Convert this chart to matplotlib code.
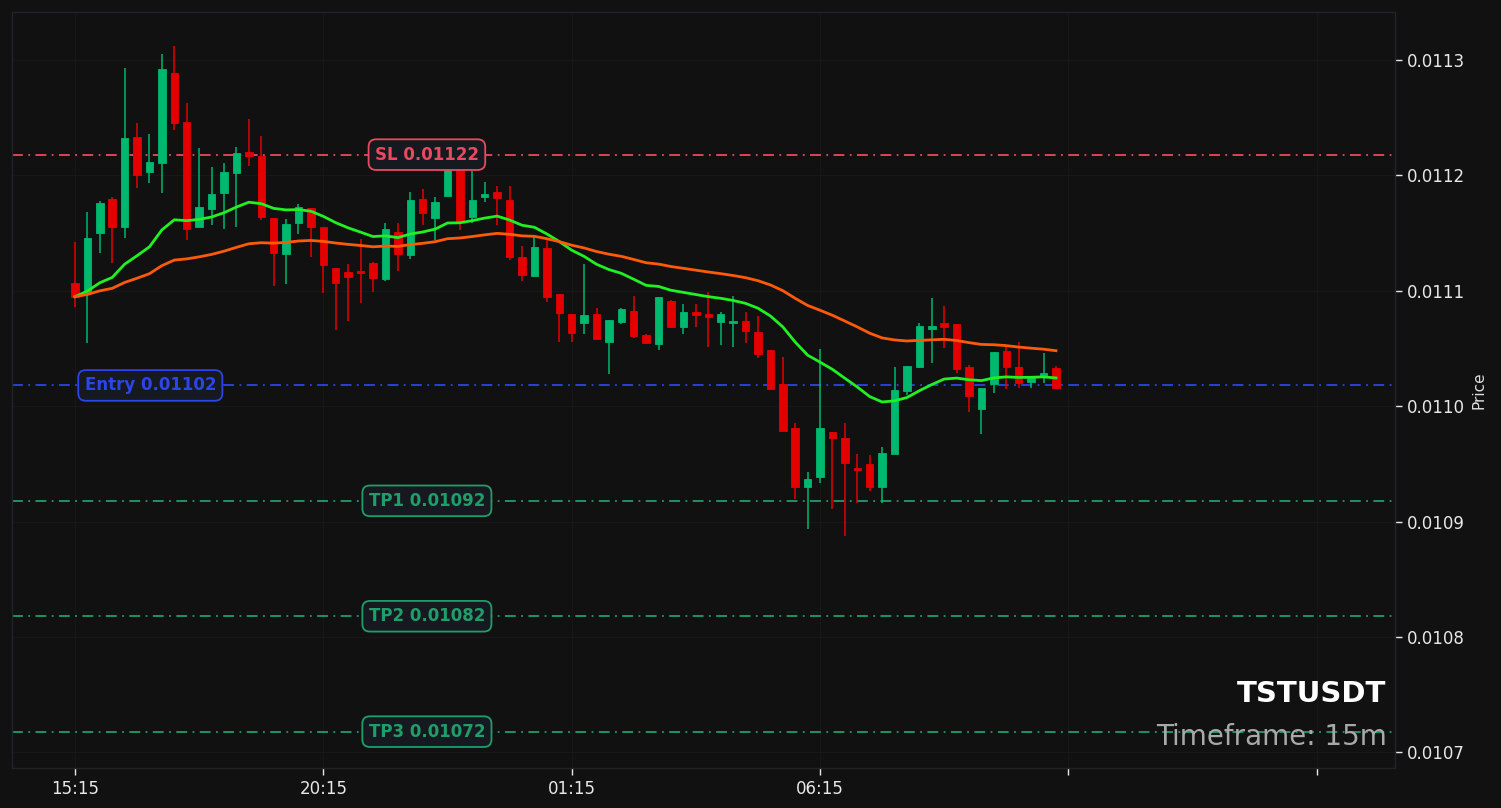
import numpy as np
import pandas as pd
import matplotlib
matplotlib.use("Agg")
import matplotlib.pyplot as plt

# ---- data (prices in units of 1e-5) ----
opens = np.array([1110.65, 1109.92, 1114.98, 1117.93, 1115.55, 1123.35, 1120.32, 1121.10, 1128.85, 1124.60,
                  1115.55, 1117.11, 1118.50, 1120.18, 1122.00, 1121.68, 1116.28, 1113.16, 1115.85, 1117.15,
                  1115.50, 1111.95, 1111.60, 1111.72, 1112.38, 1111.02, 1115.12, 1113.10, 1117.93, 1116.33,
                  1118.24, 1120.99, 1116.37, 1118.15, 1118.56, 1117.84, 1112.90, 1111.26, 1113.68, 1109.70,
                  1107.96, 1107.24, 1107.96, 1105.59, 1107.32, 1108.25, 1106.17, 1105.39, 1109.12, 1106.89,
                  1108.14, 1107.99, 1107.32, 1107.24, 1107.38, 1106.40, 1104.87, 1101.90, 1098.08, 1092.97,
                  1093.89, 1097.74, 1097.22, 1094.62, 1094.99, 1093.02, 1095.86, 1101.32, 1103.37, 1106.69,
                  1107.18, 1107.10, 1103.37, 1099.76, 1101.92, 1104.78, 1103.37, 1102.12, 1102.56, 1103.28]) * 1e-5
highs = np.array([1114.20, 1116.85, 1117.81, 1118.15, 1129.28, 1124.51, 1123.56, 1130.49, 1131.21, 1126.25,
                  1122.35, 1120.75, 1121.10, 1122.43, 1124.86, 1123.44, 1116.28, 1116.20, 1117.52, 1117.15,
                  1115.50, 1111.95, 1112.30, 1114.46, 1112.52, 1115.90, 1115.85, 1118.54, 1118.80, 1118.15,
                  1121.51, 1121.77, 1120.41, 1119.40, 1119.11, 1119.11, 1113.91, 1114.64, 1114.40, 1109.70,
                  1107.96, 1112.30, 1108.48, 1107.47, 1108.48, 1109.55, 1106.26, 1109.49, 1109.20, 1108.83,
                  1108.83, 1109.92, 1108.19, 1109.55, 1108.19, 1107.79, 1104.87, 1104.24, 1098.52, 1094.32,
                  1104.93, 1097.74, 1098.52, 1095.86, 1095.77, 1096.49, 1103.37, 1103.48, 1107.18, 1109.35,
                  1108.68, 1107.10, 1103.57, 1101.55, 1104.67, 1105.30, 1105.59, 1102.64, 1104.58, 1103.48]) * 1e-5
lows = np.array([1108.62, 1105.45, 1113.25, 1112.38, 1114.55, 1118.88, 1119.32, 1118.45, 1123.93, 1114.40,
                 1115.55, 1115.70, 1115.33, 1115.50, 1120.81, 1116.14, 1110.42, 1110.59, 1114.92, 1112.95,
                 1109.84, 1106.60, 1107.41, 1108.97, 1109.92, 1110.85, 1111.72, 1112.73, 1115.70, 1114.40,
                 1118.10, 1115.27, 1115.85, 1117.67, 1115.70, 1112.67, 1110.85, 1111.20, 1109.00, 1105.59,
                 1105.59, 1106.23, 1105.80, 1102.79, 1107.12, 1105.88, 1105.36, 1104.87, 1106.82, 1106.23,
                 1106.89, 1105.16, 1105.30, 1105.16, 1105.50, 1104.15, 1101.46, 1097.88, 1091.93, 1089.33,
                 1093.32, 1091.07, 1088.75, 1091.59, 1092.68, 1091.59, 1095.86, 1100.97, 1103.28, 1103.72,
                 1105.02, 1102.85, 1099.47, 1097.56, 1101.12, 1101.46, 1101.55, 1101.55, 1101.98, 1101.46]) * 1e-5
closes = np.array([1109.49, 1114.55, 1117.58, 1115.55, 1123.21, 1120.03, 1121.14, 1129.19, 1124.51, 1115.33,
                   1117.24, 1118.36, 1120.27, 1121.92, 1121.68, 1116.37, 1113.25, 1115.76, 1117.29, 1115.55,
                   1112.24, 1110.70, 1111.17, 1111.57, 1111.08, 1115.33, 1113.16, 1117.87, 1116.77, 1117.72,
                   1120.90, 1116.07, 1117.87, 1118.39, 1118.07, 1112.95, 1111.40, 1113.80, 1109.44, 1108.05,
                   1106.37, 1107.90, 1105.80, 1107.47, 1108.42, 1106.11, 1105.45, 1109.49, 1106.89, 1108.14,
                   1107.90, 1107.76, 1107.99, 1107.38, 1106.54, 1104.50, 1101.46, 1097.88, 1093.02, 1093.66,
                   1098.08, 1097.22, 1095.10, 1094.47, 1092.97, 1095.92, 1101.40, 1103.48, 1106.95, 1106.95,
                   1106.89, 1103.22, 1100.91, 1101.55, 1104.67, 1103.37, 1102.04, 1102.64, 1102.85, 1101.60]) * 1e-5

symbol = "TSTUSDT"
timeframe = "15m"
start_time = "2024-01-01 15:15"
entry_price = 0.011018
sl_price = 0.011218
tp_prices = [0.010918, 0.010818, 0.010718]
ema_spans = [20, 50]
xtick_step = 20
yticks = [0.0107, 0.0108, 0.0109, 0.0110, 0.0111, 0.0112, 0.0113]

# ---- derived ----
n = len(closes)
idx = np.arange(n)
times = pd.date_range(start_time, periods=n, freq="15min")
close_s = pd.Series(closes)
ema_fast = close_s.ewm(span=ema_spans[0], adjust=False).mean().values
ema_slow = close_s.ewm(span=ema_spans[1], adjust=False).mean().values

BG = "#111111"
UP = "#00b86e"
DOWN = "#e50000"

fig = plt.figure(figsize=(15.01, 8.08), dpi=100, facecolor=BG)
ax = fig.add_axes([12 / 1501, 40 / 808, (1395 - 12) / 1501, (768 - 12) / 808])
ax.set_facecolor(BG)

up = closes >= opens
colors = np.where(up, UP, DOWN)
body_low = np.minimum(opens, closes)
body_h = np.maximum(np.abs(closes - opens), 0.012e-5)

ax.vlines(idx, lows, highs, colors=colors, linewidth=1.1, zorder=3)
ax.bar(idx, body_h, bottom=body_low, width=0.6, color=colors, edgecolor=colors,
       linewidth=0.6, zorder=4)

ax.plot(idx, ema_fast, color="#22f022", linewidth=2.0, zorder=5)
ax.plot(idx, ema_slow, color="#ff5a0a", linewidth=2.0, zorder=5)

# levels
levels = [("SL", sl_price, "#e84a5f", 0.30),
          ("Entry", entry_price, "#2a45e8", 0.10)]
for k, tp in enumerate(tp_prices):
    levels.append((f"TP{k + 1}", tp, "#1f9e6a", 0.30))

for name, price, col, xf in levels:
    ax.axhline(price, color=col, linestyle=(0, (6, 3, 1, 3)), linewidth=1.3, zorder=2)
    ax.text(xf, price, f"{name} {price:.5f}", transform=ax.get_yaxis_transform(),
            ha="center", va="center", color=col, fontsize=12, fontweight="bold", zorder=7,
            bbox=dict(boxstyle="round,pad=0.38,rounding_size=0.45", fc="#161a20", ec=col, lw=1.3))

ax.text(0.994, 0.098, symbol, transform=ax.transAxes, ha="right", va="center",
        color="white", fontsize=21, fontweight="bold", zorder=8)
ax.text(0.994, 0.041, f"Timeframe: {timeframe}", transform=ax.transAxes, ha="right",
        va="center", color="#a8a8a8", fontsize=20, zorder=8)

# axes
ax.set_xlim(-5.07, 106.3)
ax.set_ylim(0.0106865, 0.0113416)
xt = np.arange(0, 107, xtick_step)
ax.set_xticks(xt)
ax.set_xticklabels([times[i].strftime("%H:%M") if i < n else "" for i in xt])
ax.yaxis.tick_right()
ax.yaxis.set_label_position("right")
ax.set_yticks(yticks)
ax.set_yticklabels([f"{v:.4f}" for v in yticks])
ax.set_ylabel("Price", color="#dddddd", fontsize=11, labelpad=5)
ax.tick_params(colors="#e8e8e8", labelsize=12, length=5, width=1)
ax.grid(True, color="#171717", linewidth=0.8, zorder=0)
for s in ax.spines.values():
    s.set_color("#20252b")
    s.set_linewidth(1)

fig.savefig("out.png", dpi=100, facecolor=BG)
